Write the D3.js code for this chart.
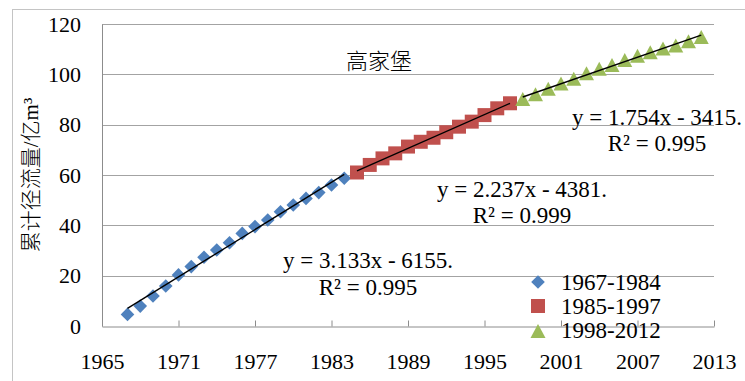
<!DOCTYPE html>
<html>
<head>
<meta charset="utf-8">
<script src="https://cdn.jsdelivr.net/npm/d3@7"></script>
<style>
  body { margin: 0; background: #fff; }
  svg { display: block; }
</style>
</head>
<body>
<svg id="chart" width="745" height="381"></svg>
<script>
// Cumulative runoff (亿m³) at 高家堡, split into three periods
const years1 = [1967, 1968, 1969, 1970, 1971, 1972, 1973, 1974, 1975, 1976, 1977, 1978, 1979, 1980, 1981, 1982, 1983, 1984];
const runoff1 = [4.6, 7.9, 11.9, 15.9, 20.3, 23.6, 27.3, 30.2, 33.1, 36.8, 39.5, 42.1, 45.4, 48.1, 50.7, 53.0, 56.0, 58.7];

const years2 = [1985, 1986, 1987, 1988, 1989, 1990, 1991, 1992, 1993, 1994, 1995, 1996, 1997];
const runoff2 = [61.0, 64.0, 66.6, 68.6, 71.3, 73.2, 74.8, 77.0, 79.2, 81.2, 83.8, 86.5, 88.5];

const years3 = [1998, 1999, 2000, 2001, 2002, 2003, 2004, 2005, 2006, 2007, 2008, 2009, 2010, 2011, 2012];
const runoff3 = [90.2, 92.1, 94.3, 96.4, 98.2, 100.4, 102.2, 103.7, 105.7, 107.4, 108.8, 110.3, 111.5, 113.1, 114.8];

const seriesNames = ["1967-1984", "1985-1997", "1998-2012"];
const trendSlopes = [3.133, 2.237, 1.754];
const equationLines = ["y = 3.133x - 6155.", "y = 2.237x - 4381.", "y = 1.754x - 3415."];
const r2Lines = ["R² = 0.995", "R² = 0.999", "R² = 0.995"];

const xTicks = [1965, 1971, 1977, 1983, 1989, 1995, 2001, 2007, 2013];
const yTicks = [0, 20, 40, 60, 80, 100, 120];
const chartTitle = "高家堡";
const yTitle = "累计径流量/亿m³";

const colors = ["#4F81BD", "#C0504D", "#9BBB59"];
const serif = "'Liberation Serif','Times New Roman',serif";
const cjk = "'Liberation Serif','Noto Sans CJK SC',sans-serif";

const svg = d3.select("#chart");
const x = d3.scaleLinear().domain([1965, 2013]).range([102, 714]);
const y = d3.scaleLinear().domain([0, 120]).range([326, 24]);

// chart area frame
svg.append("rect")
  .attr("x", 12.5).attr("y", 9.5)
  .attr("width", 745).attr("height", 400)
  .attr("fill", "#fff").attr("stroke", "#c4c4c4").attr("stroke-width", 1);

// horizontal gridlines
svg.append("g").selectAll("line")
  .data(yTicks.filter(d => d > 0))
  .join("line")
  .attr("x1", x(1965)).attr("x2", x(2013))
  .attr("y1", d => Math.round(y(d)) + 0.5).attr("y2", d => Math.round(y(d)) + 0.5)
  .attr("stroke", "#a3a3a3").attr("stroke-width", 1);

// y axis
const yAxis = svg.append("g")
  .attr("transform", `translate(${x(1965)},0)`)
  .call(d3.axisLeft(y).tickValues(yTicks).tickSize(0).tickPadding(21).tickFormat(d3.format("d")));
yAxis.select(".domain").attr("stroke", "#8c8c8c");
yAxis.selectAll("text").attr("font-family", serif).attr("font-size", 22).attr("fill", "#000");

// x axis with inward ticks
const xAxis = svg.append("g")
  .attr("transform", `translate(0,${Math.round(y(0)) + 0.5})`)
  .call(d3.axisBottom(x).tickValues(xTicks).tickSizeInner(-6).tickSizeOuter(0).tickPadding(27).tickFormat(d3.format("d")));
xAxis.select(".domain").attr("stroke", "#8c8c8c");
xAxis.selectAll(".tick line").attr("stroke", "#8c8c8c");
xAxis.selectAll("text").attr("font-family", serif).attr("font-size", 22).attr("fill", "#000");

// marker shapes, centred on the data point
function markerPath(kind) {
  if (kind === 0) return "M0,-6.8L6.8,0L0,6.8L-6.8,0Z";
  if (kind === 1) return "M-7,-7H7V7H-7Z";
  return "M0,-7L7.5,7H-7.5Z";
}

const series = [
  { years: years1, values: runoff1 },
  { years: years2, values: runoff2 },
  { years: years3, values: runoff3 }
];

series.forEach((s, i) => {
  svg.append("g").selectAll("path")
    .data(s.years.map((yr, j) => [yr, s.values[j]]))
    .join("path")
    .attr("d", markerPath(i))
    .attr("transform", d => `translate(${x(d[0])},${y(d[1])})`)
    .attr("fill", colors[i]);
});

// linear trend lines: stated slope, passing through each period's mean point
series.forEach((s, i) => {
  const mx = d3.mean(s.years), my = d3.mean(s.values);
  const b = trendSlopes[i];
  const f = t => my + b * (t - mx);
  const x0 = s.years[0], x1 = s.years[s.years.length - 1];
  svg.append("line")
    .attr("x1", x(x0)).attr("y1", y(f(x0)))
    .attr("x2", x(x1)).attr("y2", y(f(x1)))
    .attr("stroke", "#000").attr("stroke-width", 1.4);
});

// trend equations
const eqPos = [[368, 268, 295], [522, 197, 223], [657, 125, 151]];
eqPos.forEach((p, i) => {
  const g = svg.append("g")
    .attr("font-family", serif).attr("font-size", 23).attr("text-anchor", "middle").attr("fill", "#000");
  g.append("text").attr("x", p[0]).attr("y", p[1]).text(equationLines[i]);
  g.append("text").attr("x", p[0]).attr("y", p[2]).text(r2Lines[i]);
});

// title
svg.append("text")
  .attr("x", 379).attr("y", 69)
  .attr("text-anchor", "middle")
  .attr("font-family", "'Noto Sans CJK SC',sans-serif").attr("font-weight", 300)
  .attr("font-size", 22).attr("fill", "#000")
  .text(chartTitle);

// y axis title
svg.append("text")
  .attr("transform", "translate(38,175) rotate(-90)")
  .attr("text-anchor", "middle")
  .attr("font-family", cjk).attr("font-weight", 300)
  .attr("font-size", 21).attr("fill", "#000")
  .text(yTitle);

// legend
const legendY = [282, 306, 331];
const legendText = [290, 314, 338];
seriesNames.forEach((name, i) => {
  svg.append("path")
    .attr("d", markerPath(i))
    .attr("transform", `translate(538,${legendY[i]})`)
    .attr("fill", colors[i]);
  svg.append("text")
    .attr("x", 561).attr("y", legendText[i])
    .attr("font-family", serif).attr("font-size", 23).attr("fill", "#000")
    .text(name);
});
</script>
</body>
</html>
